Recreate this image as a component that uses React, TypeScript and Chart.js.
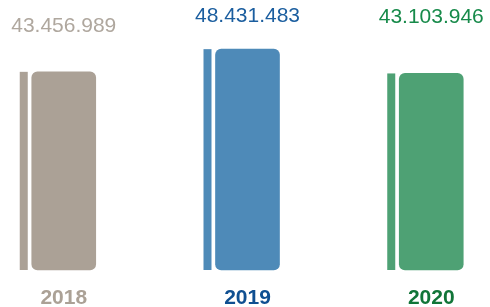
import React, { useEffect, useRef } from "react";
import { Chart, registerables } from "chart.js";

Chart.register(...registerables);

const categories = ["2018", "2019", "2020"];
const values = [43456989, 48431483, 43103946];
const valueLabels = ["43.456.989", "48.431.483", "43.103.946"];

const barColors = ["#ABA196", "#4E8AB8", "#4EA174"];
const valueLabelColors = ["#AFA79E", "#1B5E9F", "#178A4A"];
const yearColors = ["#ABA196", "#0F4F91", "#117538"];
const labelOffsets = [46, 33, 56];

const stripePlugin = {
  id: "stripes",
  afterDatasetsDraw(chart: any) {
    const meta = chart.getDatasetMeta(0);
    const ctx = chart.ctx;
    ctx.save();
    meta.data.forEach((bar: any, i: number) => {
      const p = bar.getProps(["x", "y", "base", "width"], true);
      const left = p.x - p.width / 2;
      ctx.fillStyle = barColors[i];
      ctx.fillRect(left - 4 - 8, p.y, 8, p.base - p.y);
      ctx.fillStyle = valueLabelColors[i];
      ctx.font = "21px 'Liberation Sans', Arial, sans-serif";
      ctx.textAlign = "center";
      ctx.textBaseline = "middle";
      ctx.fillText(valueLabels[i], p.x, p.y - labelOffsets[i]);
    });
    ctx.restore();
  },
};

export default function App() {
  const ref = useRef<HTMLCanvasElement | null>(null);
  useEffect(() => {
    document.body.style.margin = "0";
    const chart = new Chart(ref.current!, {
      type: "bar",
      data: {
        labels: categories,
        datasets: [
          {
            data: values,
            backgroundColor: barColors,
            borderRadius: 6,
            borderSkipped: false,
            barThickness: 64,
            clip: false as any,
          },
        ],
      },
      options: {
        responsive: false,
        animation: false,
        layout: { padding: { left: 63.75, right: 58.75, top: 42, bottom: 0 } },
        plugins: { legend: { display: false }, tooltip: { enabled: false } },
        scales: {
          x: {
            offset: false,
            grid: { display: false, drawTicks: false },
            border: { display: false },
            ticks: {
              padding: 16,
              color: yearColors,
              font: { family: "'Liberation Sans', Arial, sans-serif", size: 21, weight: "bold" },
              maxRotation: 0,
              autoSkip: false,
            },
            afterFit: (scale: any) => {
              scale.height = 37;
            },
          },
          y: { display: false, min: 0, max: 50000000 },
        },
      },
      plugins: [stripePlugin],
    });
    return () => chart.destroy();
  }, []);
  return <canvas ref={ref} width={490} height={307} style={{ display: "block" }} />;
}
